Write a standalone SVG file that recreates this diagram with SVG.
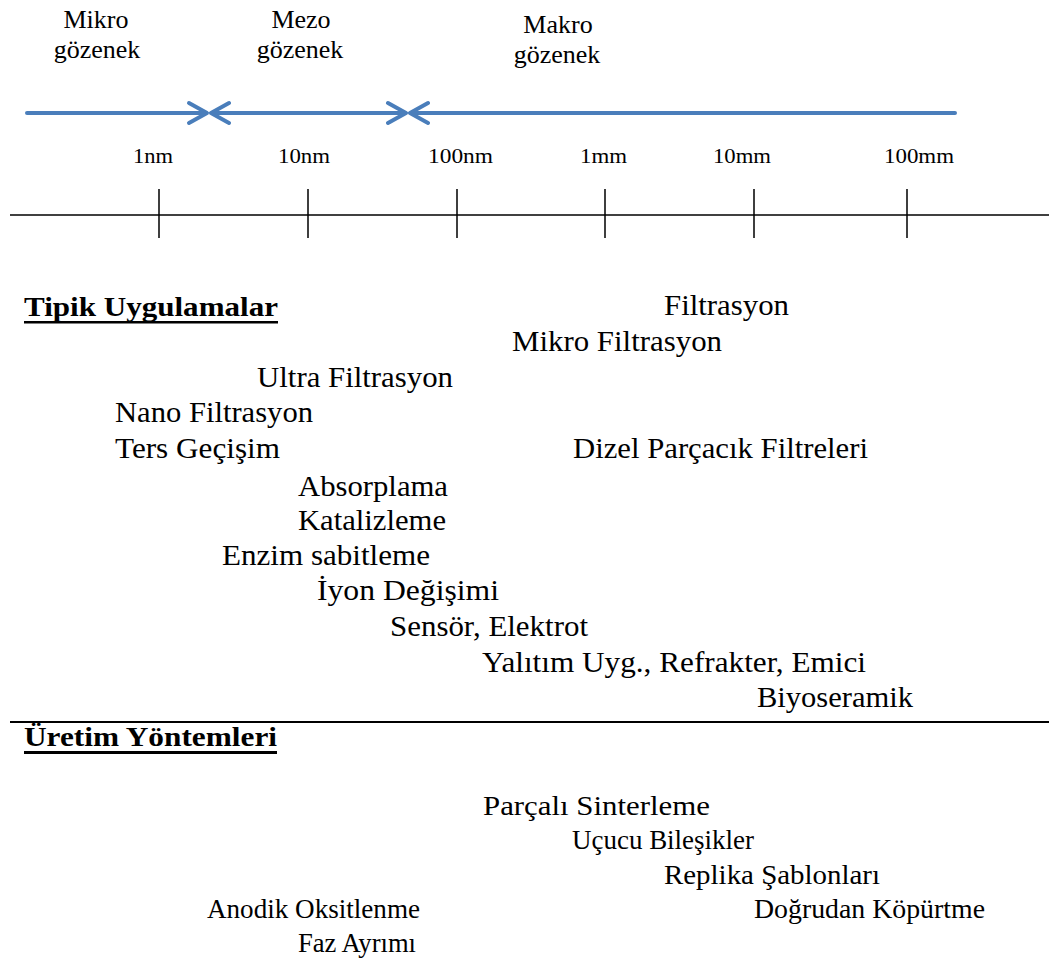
<svg xmlns="http://www.w3.org/2000/svg" width="1049" height="971" viewBox="0 0 1049 971" font-family="'Liberation Serif', 'DejaVu Serif', 'Times New Roman', serif">
<style>
text{fill:#000}
.lbl{font-size:26px;text-anchor:middle}
.tick{font-size:20px}
.t{font-size:29px}
.b{font-size:28px}
.h{font-size:28px;font-weight:bold}
.blue{stroke:#4a7ebb;stroke-width:4;fill:none;stroke-linecap:round;stroke-linejoin:round}
.ax{stroke:#000;stroke-width:1.5;fill:none}
</style>
<rect width="1049" height="971" fill="#fff"/>
<g id="pore-labels">
<g id="mikro"><text class="lbl" x="96" y="28">Mikro</text><text class="lbl" x="97" y="58">gözenek</text></g>
<g id="mezo"><text class="lbl" x="301" y="28">Mezo</text><text class="lbl" x="300" y="58">gözenek</text></g>
<g id="makro"><text class="lbl" x="558" y="33">Makro</text><text class="lbl" x="557" y="63">gözenek</text></g>
</g>
<g id="connectors">
<g id="range-arrows" class="blue">
<path d="M27 113H205M189 103L207 113L189 123"/>
<path d="M213 113H404M229 103L211 113L229 123M388 103L406 113L388 123"/>
<path d="M412 113H955M428 103L410 113L428 123"/>
</g>
<g id="axis" class="ax">
<path d="M10 215H1049"/>
<path d="M159 189V238M308 189V238M457 189V238M605 189V238M754 189V238M907 189V238"/>
</g>
<path id="section-line" d="M10 722H1049" stroke="#000" stroke-width="2" fill="none"/>
</g>
<g id="ticks">
<text class="tick" x="133" y="163" textLength="40" lengthAdjust="spacingAndGlyphs">1nm</text>
<text class="tick" x="278" y="163" textLength="52" lengthAdjust="spacingAndGlyphs">10nm</text>
<text class="tick" x="428" y="163" textLength="65" lengthAdjust="spacingAndGlyphs">100nm</text>
<text class="tick" x="580" y="163" textLength="47" lengthAdjust="spacingAndGlyphs">1mm</text>
<text class="tick" x="713" y="163" textLength="58" lengthAdjust="spacingAndGlyphs">10mm</text>
<text class="tick" x="884" y="163" textLength="70" lengthAdjust="spacingAndGlyphs">100mm</text>
</g>
<g id="tipik-uygulamalar">
<text class="h" x="24" y="316" textLength="254" lengthAdjust="spacingAndGlyphs">Tipik Uygulamalar</text>
<rect x="24" y="321" width="254" height="2.5" fill="#000"/>
</g>
<g id="applications">
<text class="t" x="664" y="315" textLength="125" lengthAdjust="spacingAndGlyphs">Filtrasyon</text>
<text class="t" x="512" y="351" textLength="210" lengthAdjust="spacingAndGlyphs">Mikro Filtrasyon</text>
<text class="t" x="257" y="387" textLength="196" lengthAdjust="spacingAndGlyphs">Ultra Filtrasyon</text>
<text class="t" x="115" y="422" textLength="198" lengthAdjust="spacingAndGlyphs">Nano Filtrasyon</text>
<text class="t" x="115" y="458" textLength="165" lengthAdjust="spacingAndGlyphs">Ters Geçişim</text>
<text class="t" x="573" y="458" textLength="295" lengthAdjust="spacingAndGlyphs">Dizel Parçacık Filtreleri</text>
<text class="t" x="298" y="496" textLength="150" lengthAdjust="spacingAndGlyphs">Absorplama</text>
<text class="t" x="298" y="530" textLength="148" lengthAdjust="spacingAndGlyphs">Katalizleme</text>
<text class="t" x="222" y="565" textLength="208" lengthAdjust="spacingAndGlyphs">Enzim sabitleme</text>
<text class="t" x="317" y="600" textLength="182" lengthAdjust="spacingAndGlyphs">İyon Değişimi</text>
<text class="t" x="390" y="636" textLength="198" lengthAdjust="spacingAndGlyphs">Sensör, Elektrot</text>
<text class="t" x="482" y="672" textLength="384" lengthAdjust="spacingAndGlyphs">Yalıtım Uyg., Refrakter, Emici</text>
<text class="t" x="757" y="707" textLength="156" lengthAdjust="spacingAndGlyphs">Biyoseramik</text>
</g>
<g id="uretim-yontemleri">
<text class="h" x="24" y="746" textLength="253" lengthAdjust="spacingAndGlyphs">Üretim Yöntemleri</text>
<rect x="24" y="751" width="253" height="3" fill="#000"/>
</g>
<g id="methods">
<text class="b" x="483" y="815" textLength="227" lengthAdjust="spacingAndGlyphs">Parçalı Sinterleme</text>
<text class="b" x="572" y="849" textLength="182" lengthAdjust="spacingAndGlyphs">Uçucu Bileşikler</text>
<text class="b" x="664" y="884" textLength="216" lengthAdjust="spacingAndGlyphs">Replika Şablonları</text>
<text class="b" x="207" y="918" textLength="213" lengthAdjust="spacingAndGlyphs">Anodik Oksitlenme</text>
<text class="b" x="754" y="918" textLength="231" lengthAdjust="spacingAndGlyphs">Doğrudan Köpürtme</text>
<text class="b" x="298" y="952" textLength="118" lengthAdjust="spacingAndGlyphs">Faz Ayrımı</text>
</g>
</svg>
